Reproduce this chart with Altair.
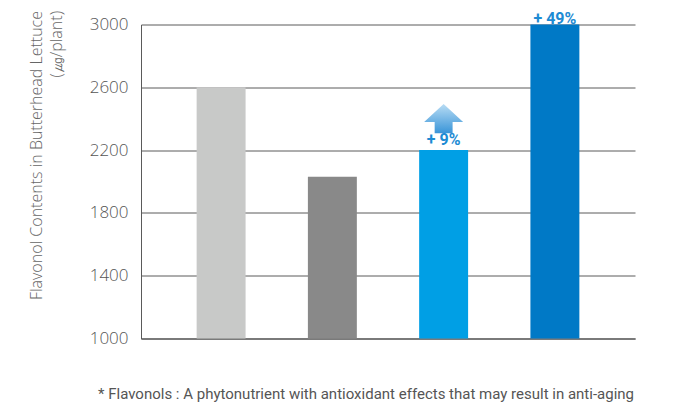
import altair as alt
import pandas as pd

categories = ["Group 1", "Group 2", "Group 3", "Group 4"]
values = [2600, 2030, 2200, 3000]
colors = ["#C8C9C8", "#898989", "#009FE5", "#0079C6"]
increase_labels = ["", "", "+ 9%", "+ 49%"]
y_ticks = [1000, 1400, 1800, 2200, 2600, 3000]
y_title = ["Flavonol Contents in Butterhead Lettuce", "(㎍/plant)"]
footnote = "* Flavonols : A phytonutrient with antioxidant effects that may result in anti-aging"

W, H = 494, 314

df = pd.DataFrame({
    "cat": categories,
    "val": values,
    "color": colors,
    "lbl": increase_labels,
})

x = alt.X("cat:N", sort=None,
          scale=alt.Scale(paddingInner=0.56, paddingOuter=0.5),
          axis=alt.Axis(labels=False, ticks=False, title=None,
                        domainColor="#7a7a7a", domainWidth=2, grid=False))
yscale = alt.Scale(domain=[1000, 3000], nice=False, zero=False)

bars = alt.Chart(df).mark_bar().encode(
    x=x,
    y=alt.Y("val:Q", scale=yscale,
            axis=alt.Axis(values=y_ticks, format="d", title=y_title, ticks=False,
                          labelPadding=13, labelFontSize=17, labelFont="Open Sans",
                          labelFontWeight=300, labelColor="#555555",
                          domainColor="#5a5a5a", domainWidth=1,
                          gridColor="#5a5a5a", gridWidth=1,
                          titleFontSize=16, titleFont="Open Sans", titleFontWeight=300,
                          titleColor="#666666", titleAngle=-90, titleAlign="right",
                          titleBaseline="top", titleX=-113, titleY=-14,
                          titleLineHeight=20)),
    y2=alt.datum(1000),
    color=alt.Color("color:N", scale=None),
)

arrow_path = "M0,-0.77 L1,0.15 L0.46,0.15 L0.46,0.72 L-0.46,0.72 L-0.46,0.15 L-1,0.15 Z"
arrows = alt.Chart(df).transform_filter("datum.lbl == '+ 9%'").mark_point(
    shape=arrow_path, size=1521, filled=True, opacity=1, strokeWidth=0,
    yOffset=-31,
    fill=alt.Gradient(gradient="linear",
                      stops=[alt.GradientStop(color="#b8dcf4", offset=0),
                             alt.GradientStop(color="#3a95d8", offset=1)],
                      x1=0, x2=0, y1=0, y2=1),
).encode(x=x, y=alt.Y("val:Q", scale=yscale))

label_style = dict(fontSize=16, fontWeight="bold", font="Roboto", color="#1d8bd3",
                   baseline="alphabetic")
label_mid = alt.Chart(df).transform_filter("datum.lbl == '+ 9%'").mark_text(
    dy=-5, **label_style
).encode(x=x, y=alt.Y("val:Q", scale=yscale), text="lbl:N")
label_top = alt.Chart(df).transform_filter("datum.lbl == '+ 49%'").mark_text(
    dy=-1, **label_style
).encode(x=x, y=alt.Y("val:Q", scale=yscale), text="lbl:N")

foot = alt.Chart(pd.DataFrame({"t": [footnote]})).mark_text(
    align="right", baseline="alphabetic", fontSize=15, font="Roboto",
    color="#555555",
).encode(text="t:N", x=alt.value(W - 1), y=alt.value(374.5))

chart = alt.layer(bars, arrows, label_mid, label_top, foot).properties(
    width=W, height=H,
    autosize=alt.AutoSizeParams(type="none"),
    padding={"left": 133, "top": 16.5, "right": 31, "bottom": 64},
).configure_view(stroke=None)

chart.save("out.html", embed_options={"renderer": "svg", "actions": False})
